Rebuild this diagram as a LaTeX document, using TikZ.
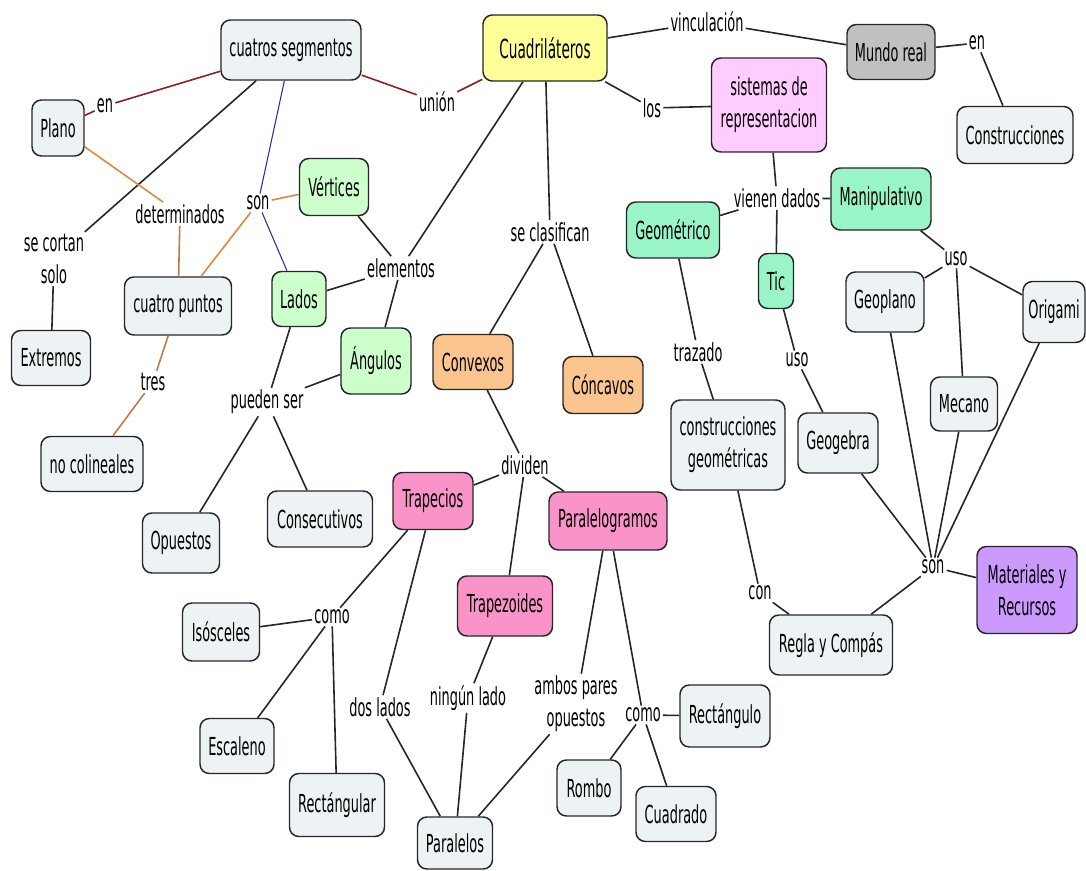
\documentclass[tikz,border=0pt]{standalone}
\usepackage{fontspec}
\setmainfont[FakeStretch=0.52]{DejaVu Sans}
\definecolor{boxgrey}{HTML}{EDF2F5}
\definecolor{boxyellow}{HTML}{FFFF99}
\definecolor{boxdark}{HTML}{C0C0C0}
\definecolor{boxlilac}{HTML}{FFCCFF}
\definecolor{boxgreen}{HTML}{CCFFCC}
\definecolor{boxorange}{HTML}{FAC48F}
\definecolor{boxpink}{HTML}{F993C8}
\definecolor{boxmint}{HTML}{99F5C8}
\definecolor{boxpurple}{HTML}{CC99FF}
\definecolor{linkred}{HTML}{8B2323}
\definecolor{linkorange}{HTML}{E0893A}
\definecolor{linkbrown}{HTML}{C07A45}
\definecolor{linkblue}{HTML}{2B2BA8}
\begin{document}
\begin{tikzpicture}[x=0.75pt,y=-0.75pt,
  every node/.style={font=\fontsize{18.6}{24}\selectfont},
  box/.style={draw=black!85, line width=1.1pt, rounded corners=7pt, align=center, inner sep=2pt},
  sz/.style 2 args={minimum width=#1*0.75pt, minimum height=#2*0.75pt},
  grey/.style={box, fill=boxgrey},
  yel/.style={box, fill=boxyellow},
  dark/.style={box, fill=boxdark},
  lilac/.style={box, fill=boxlilac},
  grn/.style={box, fill=boxgreen},
  org/.style={box, fill=boxorange},
  pnk/.style={box, fill=boxpink},
  mint/.style={box, fill=boxmint},
  purp/.style={box, fill=boxpurple},
  lbl/.style={inner sep=1.5pt, align=center},
  link/.style={line width=1.2pt, draw=black!85}
]
\useasboundingbox (0,0) rectangle (1086,871);

% concept boxes
\node[grey, sz={140}{60}] (seg) at (291,50) {cuatros segmentos};
\node[yel, sz={124}{66}, font=\fontsize{19.7}{24}\selectfont] (cua) at (545,48) {Cuadriláteros};
\node[grey, sz={52}{56}] (plano) at (58,128) {Plano};
\node[dark, sz={88}{55}] (mundo) at (891,52) {Mundo real};
\node[lilac, sz={115}{94}] (sis) at (769,105) {sistemas de\\representacion};
\node[grey, sz={116}{57}] (cons) at (1015,135) {Construcciones};
\node[grn, sz={69}{57}] (vert) at (334,187) {Vértices};
\node[grn, sz={54}{55}] (lados) at (299,299) {Lados};
\node[grn, sz={70}{66}] (ang) at (376,361) {Ángulos};
\node[grey, sz={107}{58}] (cpun) at (178,306) {cuatro puntos};
\node[grey, sz={79}{55}] (ext) at (51,358) {Extremos};
\node[grey, sz={102}{55}] (nocol) at (92,464) {no colineales};
\node[grey, sz={77}{60}] (opu) at (181,543) {Opuestos};
\node[grey, sz={105}{56}] (conse) at (320,519) {Consecutivos};
\node[org, sz={80}{55}] (convx) at (473,362) {Convexos};
\node[org, sz={80}{57}] (conc) at (603,385) {Cóncavos};
\node[pnk, sz={80}{57}] (trap) at (433,501) {Trapecios};
\node[pnk, sz={118}{58}] (paral) at (608,521) {Paralelogramos};
\node[pnk, sz={95}{60}] (tzoid) at (505,606) {Trapezoides};
\node[grey, sz={114}{90}] (cgeo) at (728,445) {construcciones\\geométricas};
\node[mint, sz={93}{56}] (geom) at (673,230) {Geométrico};
\node[mint, sz={100}{62}] (manip) at (881,199) {Manipulativo};
\node[mint, sz={35}{55}] (tic) at (776,281) {Tic};
\node[grey, sz={78}{60}] (geop) at (885,302) {Geoplano};
\node[grey, sz={62}{61}] (orig) at (1054,312) {Origami};
\node[grey, sz={67}{54}] (mec) at (964,404) {Mecano};
\node[grey, sz={80}{60}] (geog) at (838,443) {Geogebra};
\node[purp, sz={100}{87}] (mat) at (1027,590) {Materiales y\\Recursos};
\node[grey, sz={123}{60}] (regla) at (831,645) {Regla y Compás};
\node[grey, sz={77}{58}] (isos) at (221,632) {Isósceles};
\node[grey, sz={74}{55}] (esc) at (237,746) {Escaleno};
\node[grey, sz={95}{63}] (rectg) at (337,805) {Rectángular};
\node[grey, sz={75}{52}] (paralelos) at (455,843) {Paralelos};
\node[grey, sz={90}{62}] (rectgl) at (725,716) {Rectángulo};
\node[grey, sz={64}{56}] (rombo) at (589,788) {Rombo};
\node[grey, sz={80}{55}] (cuad) at (676,814) {Cuadrado};

% linking phrases
\node[lbl] (len1) at (105,106) {en};
\node[lbl] (lunion) at (437,102) {unión};
\node[lbl] (lvinc) at (707,22) {vinculación};
\node[lbl] (len2) at (977,43) {en};
\node[lbl] (llos) at (652,108) {los};
\node[lbl] (lson1) at (258,203) {son};
\node[lbl] (ldet) at (180,214) {determinados};
\node[lbl] (lcorta) at (54,259) {se cortan\\solo};
\node[lbl] (lelem) at (401,268) {elementos};
\node[lbl] (ltres) at (153,382) {tres};
\node[lbl] (lpued) at (267,402) {pueden ser};
\node[lbl] (lclas) at (550,232) {se clasifican};
\node[lbl] (lvien) at (777,198) {vienen dados};
\node[lbl] (ltraz) at (698,352) {trazado};
\node[lbl] (luso1) at (956,259) {uso};
\node[lbl] (luso2) at (797,360) {uso};
\node[lbl] (ldiv) at (525,465) {dividen};
\node[lbl] (lson2) at (933,567) {son};
\node[lbl] (lcon) at (760,593) {con};
\node[lbl] (lcomo1) at (332,617) {como};
\node[lbl] (ldos) at (380,707) {dos lados};
\node[lbl] (lning) at (468,698) {ningún lado};
\node[lbl] (lamb) at (576,704) {ambos pares\\opuestos};
\node[lbl] (lcomo2) at (643,715) {como};

% connectors
\draw[link, draw=linkred] (plano) -- (len1) (len1) -- (seg);
\draw[link, draw=linkred] (seg) -- (lunion) (lunion) -- (cua);
\draw[link] (seg) -- (lcorta) (lcorta) -- (ext);
\draw[link, draw=linkorange] (plano) -- (ldet);
\draw[link, draw=linkbrown] (ldet) -- (cpun);
\draw[link, draw=linkblue, line width=0.8pt] (seg) -- (lson1) (lson1) -- (lados);
\draw[link, draw=linkorange] (lson1) -- (vert) (lson1) -- (cpun);
\draw[link, draw=linkbrown] (cpun) -- (ltres) (ltres) -- (nocol);
\draw[link] (cua) -- (lelem) (lelem) -- (vert) (lelem) -- (lados) (lelem) -- (ang);
\draw[link] (lados) -- (lpued) (ang) -- (lpued) (lpued) -- (opu) (lpued) -- (conse);
\draw[link] (cua) -- (lclas) (lclas) -- (convx) (lclas) -- (conc);
\draw[link] (convx) -- (ldiv) (ldiv) -- (trap) (ldiv) -- (paral) (ldiv) -- (tzoid);
\draw[link] (trap) -- (lcomo1) (lcomo1) -- (isos) (lcomo1) -- (esc) (lcomo1) -- (rectg);
\draw[link] (trap) -- (ldos) (ldos) -- (paralelos);
\draw[link] (tzoid) -- (lning) (lning) -- (paralelos);
\draw[link] (paral) -- (lamb) (lamb) -- (paralelos);
\draw[link] (paral) -- (lcomo2) (lcomo2) -- (rectgl) (lcomo2) -- (rombo) (lcomo2) -- (cuad);
\draw[link] (cua) -- (lvinc) (lvinc) -- (mundo) (mundo) -- (len2) (len2) -- (cons);
\draw[link] (cua) -- (llos) (llos) -- (sis);
\draw[link] (sis) -- (lvien) (lvien) -- (geom) (lvien) -- (manip) (lvien) -- (tic);
\draw[link] (geom) -- (ltraz) (ltraz) -- (cgeo) (cgeo) -- (lcon) (lcon) -- (regla);
\draw[link] (tic) -- (luso2) (luso2) -- (geog);
\draw[link] (manip) -- (luso1) (luso1) -- (geop) (luso1) -- (mec) (luso1) -- (orig);
\draw[link] (geop) -- (lson2) (mec) -- (lson2) (orig) -- (lson2) (geog) -- (lson2) (regla) -- (lson2) (lson2) -- (mat);
\end{tikzpicture}
\end{document}
